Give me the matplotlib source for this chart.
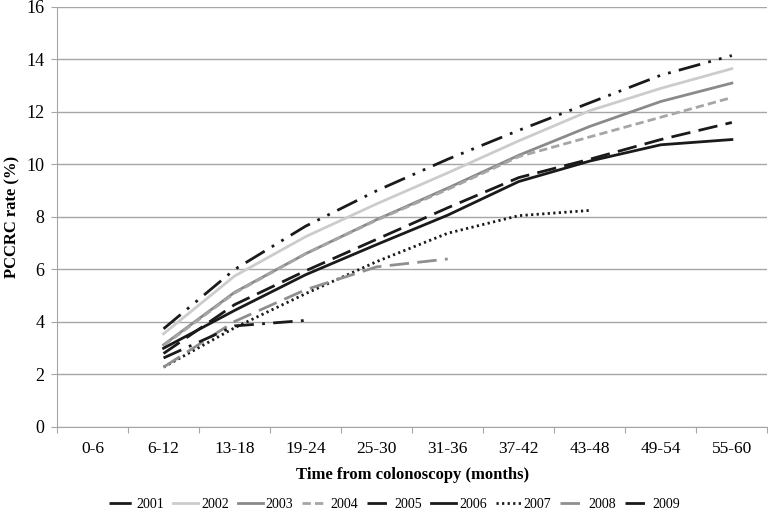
import matplotlib
matplotlib.use("Agg")
import matplotlib.pyplot as plt

plt.rcParams['font.family'] = ['Liberation Serif', 'DejaVu Serif']

categories = ['0-6', '6-12', '13-18', '19-24', '25-30', '31-36', '37-42', '43-48', '49-54', '55-60']

# values start at 6-12 (index 1)
rate_2001 = [3.74, 6.0, 7.65, 9.0, 10.2, 11.3, 12.35, 13.4, 14.15]
rate_2002 = [3.55, 5.75, 7.25, 8.5, 9.68, 10.9, 12.05, 12.9, 13.65]
rate_2003 = [3.13, 5.13, 6.6, 7.9, 9.1, 10.35, 11.45, 12.4, 13.1]
rate_2004 = [3.1, 5.1, 6.6, 7.88, 9.05, 10.3, 11.05, 11.8, 12.55]
rate_2005 = [2.8, 4.66, 5.95, 7.15, 8.35, 9.5, 10.2, 10.95, 11.6]
rate_2006 = [3.0, 4.44, 5.8, 6.95, 8.07, 9.35, 10.13, 10.75, 10.95]
rate_2007 = [2.28, 3.78, 5.08, 6.3, 7.38, 8.05, 8.25]
rate_2008 = [2.28, 4.02, 5.23, 6.1, 6.4]
rate_2009 = [2.63, 3.85, 4.06]

series = [
    ('2001', rate_2001, '#1a1a1a', (0, (8, 3, 1, 3, 1, 3))),
    ('2002', rate_2002, '#cccccc', '-'),
    ('2003', rate_2003, '#8a8a8a', '-'),
    ('2004', rate_2004, '#a6a6a6', (0, (3, 1.5))),
    ('2005', rate_2005, '#1a1a1a', (0, (7, 3))),
    ('2006', rate_2006, '#1a1a1a', '-'),
    ('2007', rate_2007, '#1a1a1a', (0, (0.8, 1.2))),
    ('2008', rate_2008, '#8f8f8f', (0, (7, 3))),
    ('2009', rate_2009, '#1a1a1a', (0, (7, 3, 1, 3))),
]

fig = plt.figure(figsize=(7.68, 5.16), dpi=100)
ax = fig.add_axes([0.0742, 0.1725, 0.925, 0.814])

for nombre, valores, color, estilo in series:
    xs = list(range(1, 1 + len(valores)))
    ax.plot(xs, valores, color=color, linestyle=estilo, linewidth=2, label=nombre)

ax.set_xlim(-0.5, len(categories) - 0.5)
ax.set_ylim(0, 16)
ax.set_yticks(range(0, 17, 2))
ax.yaxis.grid(True, color='#a6a6a6', linewidth=1)
ax.set_axisbelow(True)

ax.set_xticks([i - 0.5 for i in range(len(categories) + 1)])
ax.set_xticklabels([])
ax.set_xticks(range(len(categories)), minor=True)
ax.set_xticklabels(categories, minor=True)
ax.tick_params(axis='x', which='minor', length=0, pad=10, labelsize=12.5)
ax.tick_params(axis='x', which='major', length=4, color='#a6a6a6')
ax.tick_params(axis='y', length=4, color='#a6a6a6', labelsize=13, pad=5)

for lado in ['top', 'right']:
    ax.spines[lado].set_visible(False)
for lado in ['left', 'bottom']:
    ax.spines[lado].set_color('#a6a6a6')

ax.set_xlabel('Time from colonoscopy (months)', fontweight='bold', fontsize=12, labelpad=7)
ax.set_ylabel('PCCRC rate (%)', fontweight='bold', fontsize=12, labelpad=4)

ax.legend(loc='upper center', bbox_to_anchor=(0.475, -0.14), ncol=9, frameon=False,
          fontsize=10, handlelength=1.8, handletextpad=0.2, columnspacing=0.65)

fig.savefig('out.png', dpi=100)
